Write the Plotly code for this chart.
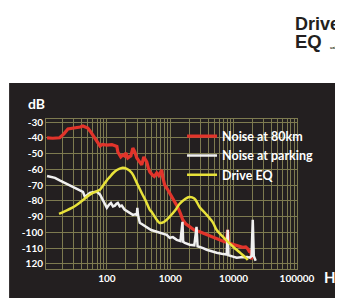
import plotly.graph_objects as go

# ---------------- data ----------------
red_freq = [11.4, 14, 18, 21, 24.3, 28, 33.7, 38, 42, 46, 50, 55, 60, 65, 70, 78, 85, 100, 120, 135,
            144, 149, 158, 166, 179, 190, 199, 214, 228, 239, 257, 266, 276, 297, 320, 355, 383, 400,
            426, 450, 476, 520, 560, 613, 660, 700, 734, 762, 819, 900, 982, 1094, 1200, 1314, 1450,
            1574, 1750, 2030, 2400, 2916, 3500, 4192, 5000, 6030, 7000, 7700, 8060, 8300, 9500,
            11170, 12460, 13890, 15500, 16700, 17950, 18600, 19320]
red_db = [-40.1, -40.3, -40, -37.5, -34.4, -34, -33.8, -33.2, -32.5, -33, -33.8, -36, -38.2, -40.5,
          -42.7, -45.2, -44.2, -44.6, -44.3, -45, -45.5, -49, -51, -52.2, -50.9, -51.5, -49.6, -52.8,
          -52, -51.5, -46.5, -47.5, -49, -52.8, -55, -57.2, -52.2, -54, -55.3, -59, -61.6, -63.5,
          -64.5, -62.3, -64, -62, -60.5, -65, -70, -72.5, -75, -78, -81, -84, -88, -92, -94.5,
          -96.5, -98.5, -99.6, -101, -102.2, -103.5, -104.7, -105.8, -106.2, -98.4, -106.8, -107.5,
          -108.5, -108.8, -109.5, -109.2, -110.4, -112.5, -111, -117.3]

white_freq = [11.4, 15.2, 18, 21.8, 25, 28, 33.7, 38, 42, 45, 48.4, 54, 60, 70, 78, 86, 94, 100, 108,
              116, 125, 134, 142, 149, 160, 172, 190, 214, 235, 257, 280, 297, 303, 310, 331, 380,
              426, 500, 613, 700, 880, 982, 1100, 1267, 1450, 1560, 1600, 1700, 2030, 2400, 2600,
              2700, 2916, 3300, 3759, 4500, 5405, 6500, 7770, 8060, 8300, 9500, 11170, 13000, 14980,
              16500, 17950, 19200, 20040, 20800, 22300]
white_db = [-64.2, -65.4, -67, -68.6, -70, -71, -72.2, -73.5, -74.3, -77.5, -76.5, -75, -74.5, -74.3,
            -76, -79.4, -82, -84.4, -82.5, -81.3, -83.5, -83, -81.8, -81.3, -83.5, -83, -85.5, -87,
            -88, -88.9, -88.5, -88.9, -84.4, -89, -93.9, -95.5, -97.1, -98.5, -99.6, -100.2, -101.5,
            -103.4, -103, -104.7, -105.5, -93.3, -106, -106.6, -107.8, -108.2, -96.5, -108.8, -109.1,
            -110, -111, -112, -112.9, -113.5, -114, -98.4, -114.5, -115.2, -116.1, -115.8, -115.4,
            -115.6, -116, -115, -92, -115, -118]

yellow_freq = [17.6, 22, 28, 33.7, 42, 50, 60, 70, 77.6, 90, 100, 111.5, 125, 144, 172, 207, 248, 297,
               355, 426, 476, 511, 613, 683, 800, 982, 1200, 1400, 1700, 2000, 2400, 2916, 3600, 4670,
               5405, 6720, 8600, 11170, 14980, 16700]
yellow_db = [-88.2, -86.5, -84.5, -82.5, -79.5, -77, -75, -73.8, -73, -69.5, -67, -64.8, -62.5, -60.4,
             -59.1, -59.7, -62.3, -68.6, -75, -81.3, -85.7, -87, -92, -94, -93.3, -90, -86, -82, -79,
             -77.5, -78.5, -84, -88, -93.5, -98.5, -102.5, -107, -111, -115.5, -117.5]

series_names = ["Noise at 80km", "Noise at parking", "Drive EQ"]
y_tickvals = [-30, -40, -50, -60, -70, -80, -90, -100, -110, -120]
y_ticktext = ["-30", "-40", "-50", "-60", "-70", "-80", "-90", "-100", "-110", "120"]

# ---------------- style ----------------
BG = "#231f20"
GRID = "#7d7a50"
RED = "#e2342b"
WHITE = "#f0f0f0"
YELLOW = "#e8e23a"
FONT = "Lato"

fig = go.Figure()
fig.add_trace(go.Scatter(x=red_freq, y=red_db, mode="lines", name=series_names[0],
                         line=dict(color=RED, width=3.2)))
fig.add_trace(go.Scatter(x=white_freq, y=white_db, mode="lines", name=series_names[1],
                         line=dict(color=WHITE, width=2.5)))
fig.add_trace(go.Scatter(x=yellow_freq, y=yellow_db, mode="lines", name=series_names[2],
                         line=dict(color=YELLOW, width=2.5, shape="spline")))

# the page body has an 8px margin, so the figure is 8px smaller on each axis
fig.update_layout(
    width=335, height=290,
    margin=dict(l=38, r=46, t=111, b=29),
    paper_bgcolor="white",
    plot_bgcolor=BG,
    font=dict(family=FONT, color="white"),
    showlegend=True,
    legend=dict(x=0.542, y=0.983, xanchor="left", yanchor="top",
                bgcolor="rgba(0,0,0,0)", borderwidth=0,
                font=dict(family=FONT, size=12.5, color="white", weight="bold"),
                itemwidth=30, tracegroupgap=0),
    xaxis=dict(type="log", range=[1.04, 5.0], tickmode="linear", tick0=0, dtick=1,
               tickformat="d", showgrid=True, gridcolor=GRID, gridwidth=1,
               minor=dict(dtick="D1", showgrid=True, gridcolor=GRID, gridwidth=1, ticklen=0),
               showline=True, linecolor=GRID, linewidth=1, mirror=True, zeroline=False,
               ticks="", tickfont=dict(family=FONT, size=10, color="white", weight="bold")),
    yaxis=dict(range=[-123.2, -28.1], tickmode="array", tickvals=y_tickvals, ticktext=y_ticktext,
               showgrid=True, gridcolor=GRID, gridwidth=1, zeroline=False,
               showline=True, linecolor=GRID, linewidth=1, mirror=True,
               ticks="", tickfont=dict(family=FONT, size=10, color="white", weight="bold")),
)

# dark panel behind the chart
fig.add_shape(type="rect", xref="paper", yref="paper", x0=-0.147, x1=1.3, y0=-0.4, y1=1.24,
              fillcolor=BG, line=dict(width=0), layer="below")

fig.add_annotation(text="dB", xref="paper", yref="paper", x=-0.078, y=1.1,
                   xanchor="left", yanchor="middle", showarrow=False,
                   font=dict(family=FONT, size=14, color="white", weight="bold"))
fig.add_annotation(text="Hz", xref="paper", yref="paper", x=1.1, y=-0.053,
                   xanchor="left", yanchor="middle", showarrow=False,
                   font=dict(family=FONT, size=15, color="white", weight="bold"))

# logo text (top right)
fig.add_annotation(text="Drive", xref="paper", yref="paper", x=0.99, y=1.633,
                   xanchor="left", yanchor="middle", showarrow=False, borderpad=0,
                   font=dict(family="Liberation Sans", size=18, color=BG, weight="bold"))
fig.add_annotation(text="EQ", xref="paper", yref="paper", x=0.99, y=1.52,
                   xanchor="left", yanchor="middle", showarrow=False, borderpad=0,
                   font=dict(family="Liberation Sans", size=18.5, color=BG, weight="bold"))
fig.add_annotation(text="ualizer", xref="paper", yref="paper", x=1.127, y=1.48,
                   xanchor="left", yanchor="middle", showarrow=False, borderpad=0,
                   font=dict(family="Liberation Sans", size=4, color=BG, weight="bold"))

fig.write_html("out.html", post_script="document.body.style.overflow='hidden';")
